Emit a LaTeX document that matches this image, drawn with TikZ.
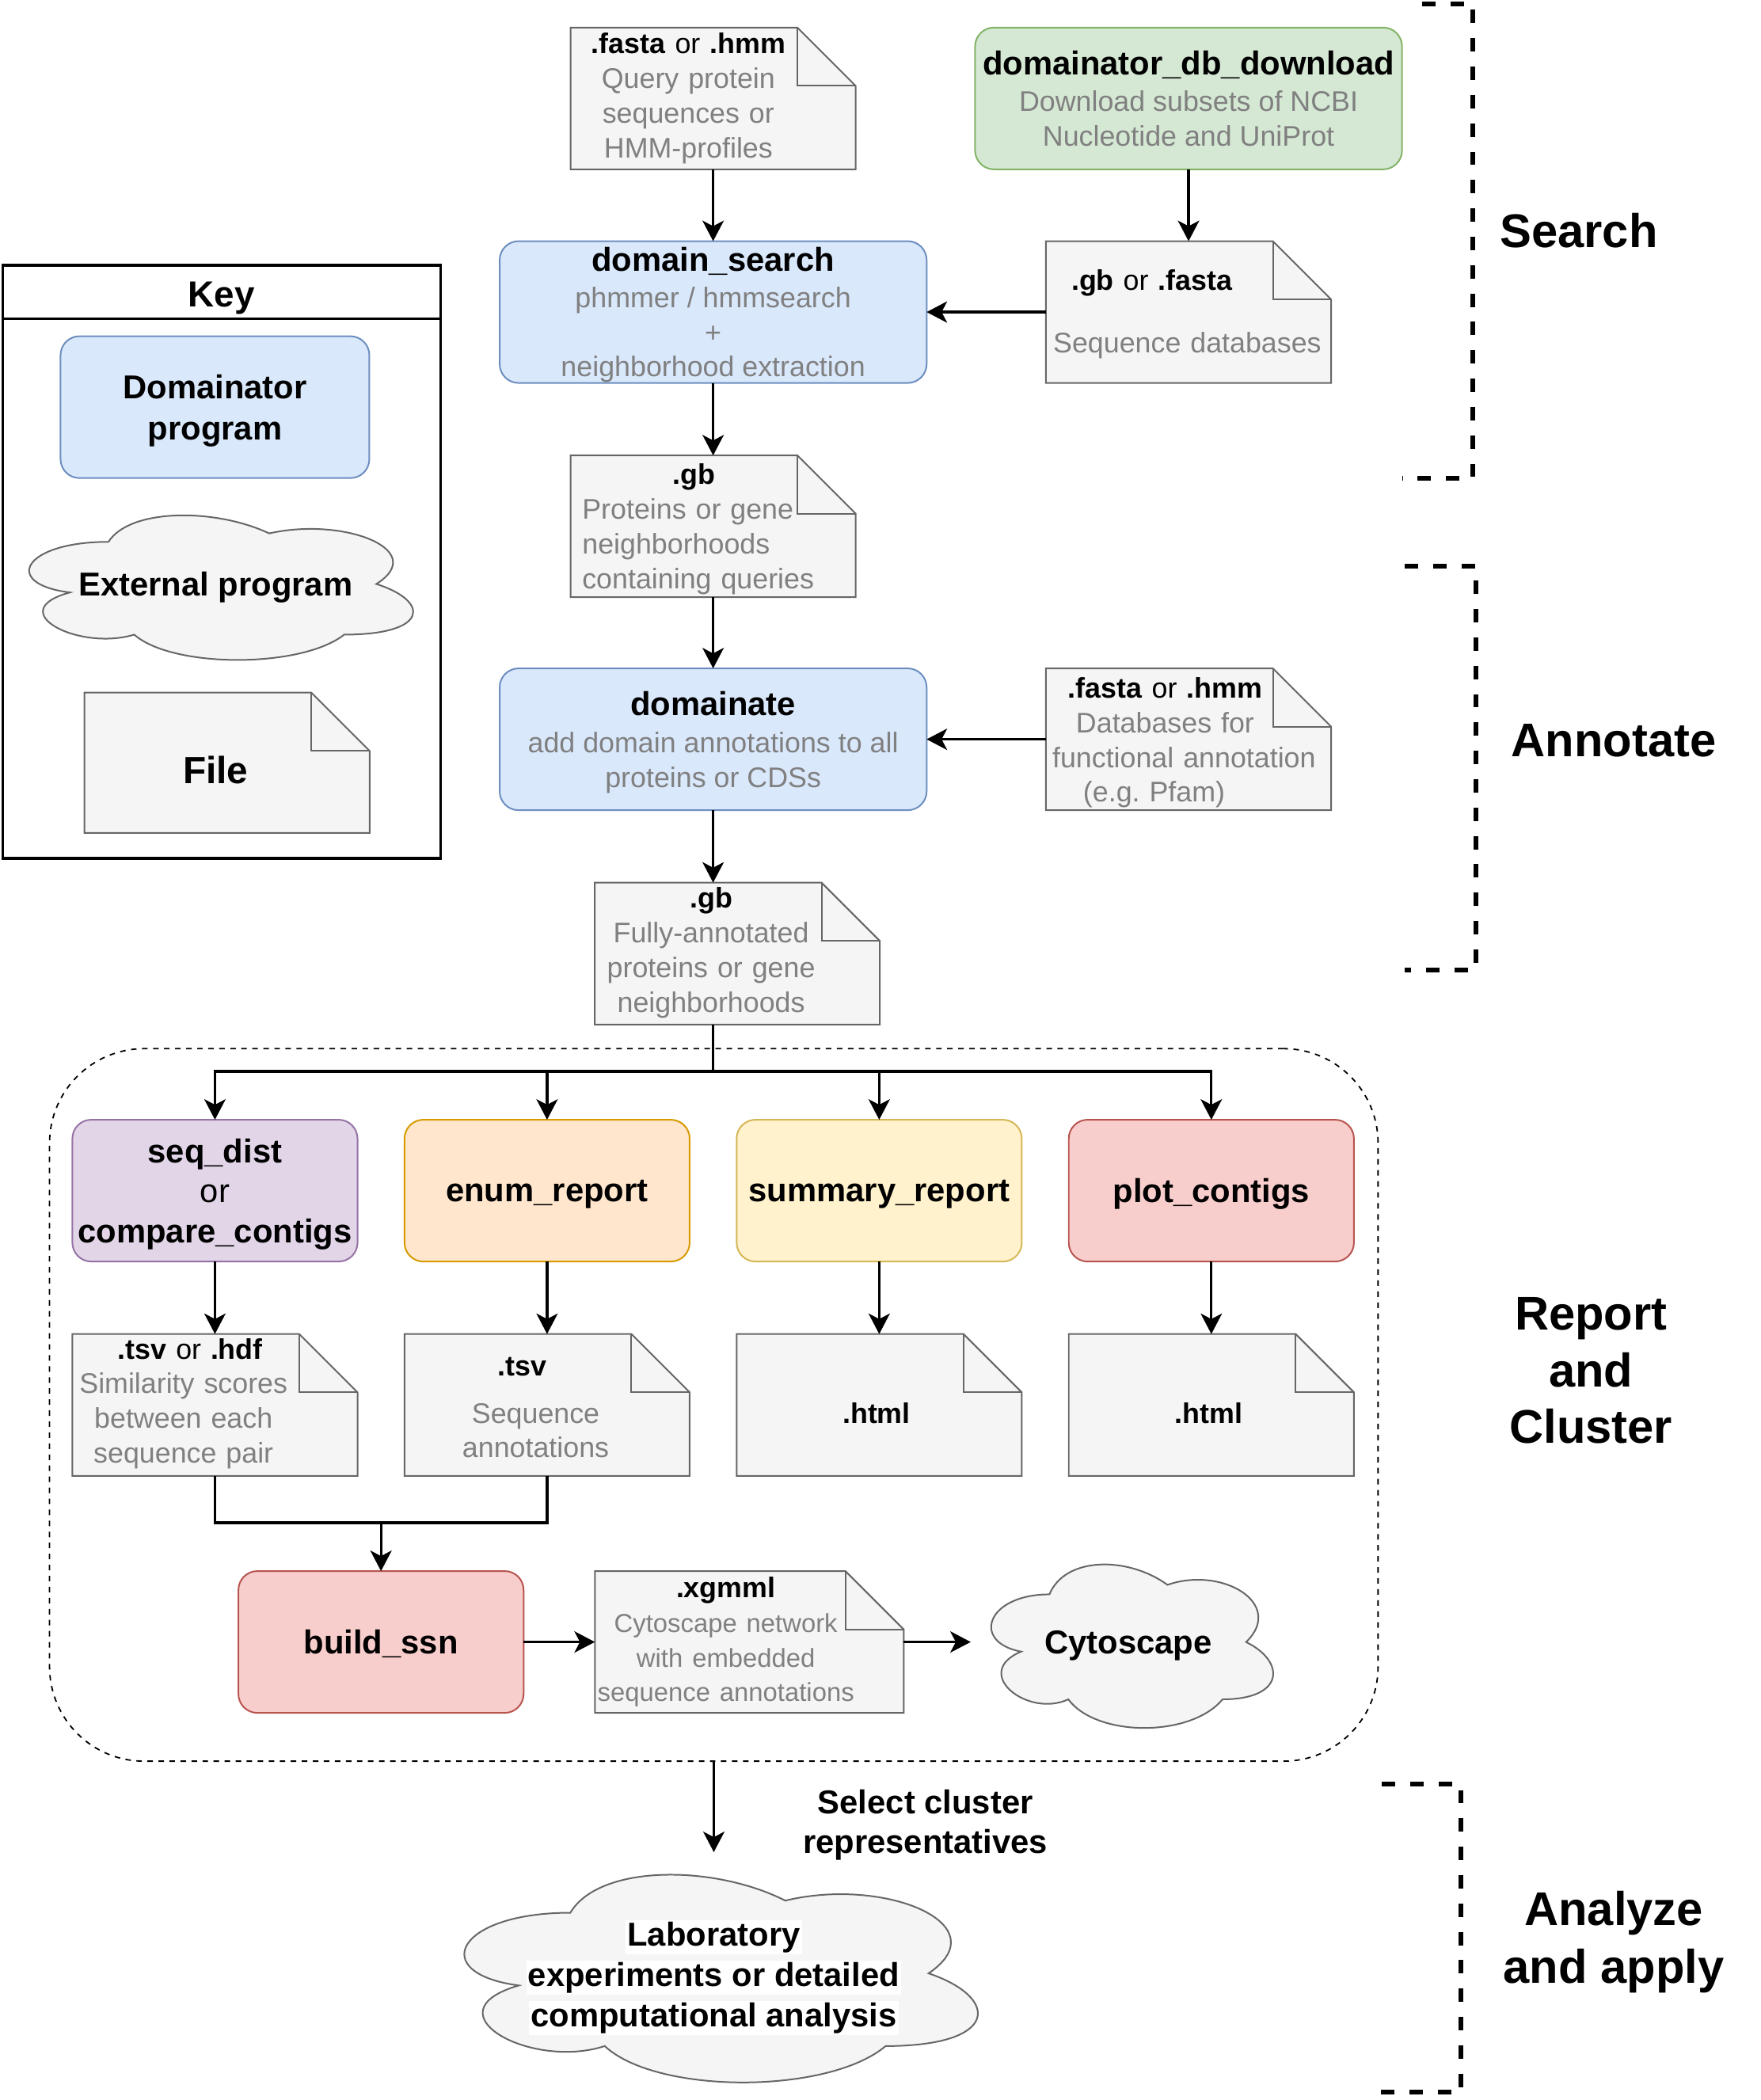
\documentclass[tikz,border=0pt]{standalone}
\usepackage{fontspec}
\setmainfont{Liberation Sans}
\usetikzlibrary{arrows.meta, positioning, backgrounds}
\frenchspacing

\definecolor{progfill}{HTML}{DAE8FC}
\definecolor{progline}{HTML}{6C8EBF}
\definecolor{dlfill}{HTML}{D5E8D4}
\definecolor{dlline}{HTML}{82B366}
\definecolor{purfill}{HTML}{E1D5E7}
\definecolor{purline}{HTML}{9673A6}
\definecolor{orafill}{HTML}{FFE6CC}
\definecolor{oraline}{HTML}{D79B00}
\definecolor{yelfill}{HTML}{FFF2CC}
\definecolor{yelline}{HTML}{D6B656}
\definecolor{redfill}{HTML}{F8CECC}
\definecolor{redline}{HTML}{B85450}
\definecolor{filefill}{HTML}{F5F5F5}
\definecolor{fileline}{HTML}{666666}
\definecolor{txtgray}{HTML}{808080}

\newcommand{\ttlfont}{\fontsize{21}{22}\selectfont\bfseries}
\newcommand{\gtxt}[1]{{\color{txtgray}#1}}
\newcommand{\wbg}[1]{{\setlength{\fboxsep}{1pt}\colorbox{white}{#1}}}

% file outline (note with folded corner) behind a named node
\newcommand{\notepath}[1]{%
  \filldraw[notestyle] (#1.south west) -- (#1.north west) -- ([xshift=-37pt]#1.north east)
    -- ([yshift=-37pt]#1.north east) -- (#1.south east) -- cycle;
  \draw[notestyle, fill=none] ([xshift=-37pt]#1.north east) |- ([yshift=-37pt]#1.north east);}

% cloud outline behind a named node, #2 x #3 in picture units
\newcommand{\cloudpath}[3]{%
  \begin{scope}[shift={(#1.north west)}, xscale=#2, yscale=#3]
    \filldraw[cloudstyle] (0.25,0.25) .. controls (0.05,0.25) and (0,0.5) .. (0.16,0.55)
      .. controls (0,0.66) and (0.18,0.9) .. (0.31,0.8)
      .. controls (0.4,1) and (0.7,1) .. (0.8,0.8)
      .. controls (1,0.8) and (1,0.6) .. (0.875,0.5)
      .. controls (1,0.3) and (0.8,0.1) .. (0.625,0.2)
      .. controls (0.5,0.05) and (0.3,0.05) .. (0.25,0.25) -- cycle;
  \end{scope}}

\tikzset{
  prog/.style={draw=progline, fill=progfill, line width=1pt, rounded corners=12pt,
    minimum width=271pt, minimum height=90pt, inner sep=2pt, outer sep=0pt,
    text depth=0pt, align=center, font=\fontsize{18}{22}\selectfont},
  tool/.style={prog, minimum width=181pt, font=\fontsize{21}{25.5}\selectfont\bfseries},
  filebox/.style={minimum width=181pt, minimum height=90pt, inner sep=0pt, outer sep=0pt},
  filetxt/.style={align=center, text width=200pt, inner sep=0pt,
    font=\fontsize{18}{22}\selectfont},
  notestyle/.style={draw=fileline, fill=filefill, line width=1pt},
  cloudbox/.style={inner sep=0pt, outer sep=0pt, align=center, text depth=0pt,
    font=\fontsize{21}{25.5}\selectfont\bfseries},
  cloudstyle/.style={draw=fileline, fill=filefill, line width=1pt},
  flow/.style={line width=1.6pt},
  phase/.style={align=center, font=\fontsize{30}{36}\selectfont\bfseries},
  bracket/.style={line width=3pt, dash pattern=on 8.5pt off 9.5pt},
}

\begin{document}
\begin{tikzpicture}[x=0.85pt, y=-0.85pt, >={Stealth[length=13pt, width=13.5pt, inset=3.5pt]}]
\useasboundingbox (0,0) rectangle (1314.6,1568);

% Report and cluster group
\node[draw, line width=0.9pt, dash pattern=on 3.5pt off 3.5pt, rounded corners=60pt,
  minimum width=843.2pt, minimum height=452.2pt] (group) at (533,1049) {};

% Key
\node[draw, line width=1.7pt, minimum width=278pt, minimum height=376.5pt, outer sep=0pt] (key) at (165.5,419.5) {};
\node[font=\fontsize{23}{26}\selectfont\bfseries, text depth=0pt] (keyhead) at (165.5,220) {Key};
\draw[line width=1.7pt] (key.west |- 0,238) -- (key.east |- 0,238);
\node[prog, minimum width=196pt, font=\fontsize{21}{26}\selectfont\bfseries] (keyprog) at (160.5,304) {Domainator\\program};
\node[cloudbox, minimum width=272pt, minimum height=107pt] (keycloud) at (161,436) {External program};
\node[filebox, minimum height=89pt] (keyfile) at (169.5,569.5) {};
\node[font=\fontsize{24}{26}\selectfont\bfseries] (keyfiletext) at (161,575) {File};

% Search
\node[filebox] (query) at (532.5,73.5) {};
\node[filetxt] (querytext) at (514,73.5) {\textbf{.fasta} or \textbf{.hmm}\\ \gtxt{Query protein}\\ \gtxt{sequences or}\\ \gtxt{HMM-profiles}};
\node[prog, draw=dlline, fill=dlfill] (dbdl) at (887.5,73.5)
  {{\ttlfont domainator\_db\_download}\\[1pt] \gtxt{Download subsets of NCBI}\\ \gtxt{Nucleotide and UniProt}};
\node[prog] (search) at (532.5,233)
  {{\ttlfont domain\_search}\\[1pt] \gtxt{phmmer / hmmsearch}\\ \gtxt{+}\\ \gtxt{neighborhood extraction}};
\node[filebox] (seqdb) at (887.5,233) {};
\node[filetxt] (seqdbtext) at (873,234.5) {\hspace*{-22pt}\textbf{.gb} or \textbf{.fasta}\\[18pt] \hspace*{23pt}\gtxt{Sequence databases}};
\node[filebox] (gbfile) at (532.5,393) {};
\node[align=left, text width=150pt, inner sep=0pt, font=\fontsize{18}{22}\selectfont] (gbtext) at (523,395)
  {\makebox[\hsize]{\hspace*{-8.5pt}\textbf{.gb}}\\ \gtxt{Proteins or gene}\\ \gtxt{neighborhoods}\\ \gtxt{containing queries}};

% Annotate
\node[prog] (annot) at (532.5,552)
  {{\ttlfont domainate}\\[1.5pt] \gtxt{add domain annotations to all}\\ \gtxt{proteins or CDSs}};
\node[filebox] (dbfile) at (887.5,552) {};
\node[filetxt] (dbtext) at (870,554.5) {\textbf{.fasta} or \textbf{.hmm}\\ \gtxt{Databases for}\\ \hspace*{24pt}\gtxt{functional annotation}\\ \hspace*{-14pt}\gtxt{(e.g. Pfam)}};
\node[filebox] (fully) at (550.5,712) {};
\node[filetxt] (fullytext) at (531,711.5) {\textbf{.gb}\\ \gtxt{Fully-annotated}\\ \gtxt{proteins or gene}\\ \gtxt{neighborhoods}};

% Report and cluster
\node[tool, draw=purline, fill=purfill] (seqdist) at (160.5,889) {seq\_dist\\ {\mdseries or}\\ compare\_contigs};
\node[tool, draw=oraline, fill=orafill] (enumrep) at (408.5,889) {enum\_report};
\node[tool, draw=yelline, fill=yelfill] (sumrep) at (656.5,889) {summary\_report};
\node[tool, draw=redline, fill=redfill] (plotc) at (904.5,889) {plot\_contigs};

\node[filebox] (tsvhdf) at (160.5,1049) {};
\node[filetxt] (tsvhdftext) at (137,1048) {\hspace*{8.5pt}\textbf{.tsv} or \textbf{.hdf}\\ \gtxt{Similarity scores}\\ \gtxt{between each}\\ \gtxt{sequence pair}};
\node[filebox] (tsvfile) at (408.5,1049) {};
\node[filetxt] (tsvtext) at (400,1051) {\hspace*{-17pt}\textbf{.tsv}\\[8pt] \gtxt{Sequence}\\ \gtxt{annotations}};
\node[filebox] (htmlsum) at (656.5,1049) {};
\node[filetxt] (htmlsumtext) at (654.5,1055) {\textbf{.html}};
\node[filebox] (htmlplot) at (904.5,1049) {};
\node[filetxt] (htmlplottext) at (902.5,1055) {\textbf{.html}};

\node[tool, draw=redline, fill=redfill] (buildssn) at (284.5,1226) {build\_ssn};
\node[filebox, minimum width=196pt] (xgmml) at (559.5,1226) {};
\node[filetxt] (xgmmltext) at (542,1226) {\textbf{.xgmml}\\ \fontsize{16.5}{22}\selectfont\gtxt{Cytoscape network}\\ \gtxt{with embedded}\\ \gtxt{sequence annotations}};
\node[cloudbox, minimum width=200pt, minimum height=121pt] (cytoscape) at (842.5,1226) {Cytoscape};

% Analyze and apply
\node[cloudbox, minimum width=364pt, minimum height=154pt] (lab) at (533,1473.5)
  {\wbg{Laboratory}\\ \wbg{experiments or detailed}\\ \wbg{computational analysis}};
\node[align=center, text depth=0pt, font=\fontsize{21}{25.5}\selectfont\bfseries] (selectlbl) at (691,1360) {Select cluster\\representatives};

% file and cloud outlines
\begin{scope}[on background layer]
  \foreach \f in {keyfile, query, seqdb, gbfile, dbfile, fully, tsvhdf, tsvfile, htmlsum, htmlplot, xgmml}
    {\notepath{\f}}
  \cloudpath{keycloud}{320}{126}
  \cloudpath{cytoscape}{235}{142.5}
  \cloudpath{lab}{428}{181}
\end{scope}

% Arrows
\draw[->, flow] (query) -- (search);
\draw[->, flow] (dbdl) -- (seqdb);
\draw[->, flow] (seqdb) -- (search);
\draw[->, flow] (search) -- (gbfile);
\draw[->, flow] (gbfile) -- (annot);
\draw[->, flow] (dbfile) -- (annot);
\draw[->, flow] (annot.south) -- (annot.south |- fully.north);
\coordinate (split) at (annot.south |- 0,800);
\draw[flow] (annot.south |- fully.south) -- (split);
\foreach \t in {seqdist, enumrep, sumrep, plotc}
  {\draw[->, flow] (split) -| (\t.north);}
\draw[->, flow] (seqdist) -- (tsvhdf);
\draw[->, flow] (enumrep) -- (tsvfile);
\draw[->, flow] (sumrep) -- (htmlsum);
\draw[->, flow] (plotc) -- (htmlplot);
\coordinate (merge) at (buildssn.north |- 0,1137);
\draw[flow] (tsvhdf.south) |- (merge) -| (tsvfile.south);
\draw[->, flow] (merge) -- (buildssn);
\draw[->, flow] (buildssn) -- (xgmml);
\draw[->, flow] (xgmml) -- (cytoscape);
\draw[->, flow] (group) -- (lab);

% Phases
\node[phase] (searchhead) at (1179,172) {Search};
\node[phase] (annothead) at (1205,553) {Annotate};
\node[phase] (reporthead) at (1188,1023.5) {Report\\and\\Cluster};
\node[phase, font=\fontsize{30}{37}\selectfont\bfseries] (applyhead) at (1205,1450) {Analyze\\and apply};
\draw[bracket] (1062,3) -- (1100,3) -- (1100,357) -- (1047,357);
\draw[bracket] (1049,423) -- (1102,423) -- (1102,724) -- (1049,724);
\draw[bracket] (1032,1332) -- (1091,1332) -- (1091,1562) -- (1030,1562);

\end{tikzpicture}
\end{document}
